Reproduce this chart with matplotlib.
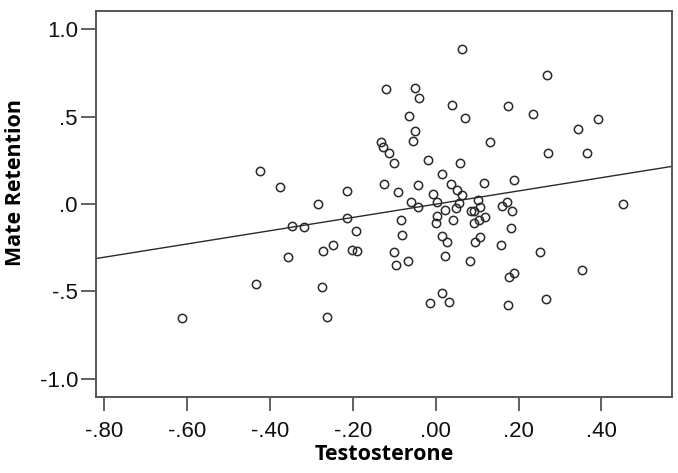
import numpy as np
import matplotlib
matplotlib.use("Agg")
import matplotlib.pyplot as plt

# testosterone (x) vs mate retention (y)
testosterone = [
    -0.120, -0.131, -0.128, -0.114, -0.424, -0.377, -0.215, -0.126, -0.283,
    0.064, 0.268, -0.051, -0.041, 0.040, 0.174, 0.235, 0.391, -0.064, 0.070,
    0.344, -0.051, -0.056, 0.131, 0.271, 0.365, -0.100, -0.018, 0.059, 0.016,
    0.188, 0.116, -0.043, 0.036, 0.051, -0.091, -0.006, 0.064, 0.101, -0.060,
    0.002, 0.056, 0.172, 0.452,
    -0.043, 0.161, 0.106, 0.048, 0.022, 0.086, 0.092, 0.183, 0.004, 0.119,
    -0.085, 0.000, 0.041, 0.092, 0.104, 0.182, -0.082, 0.014, 0.026, 0.094,
    0.108, 0.157, -0.100, 0.251, -0.095, -0.068, 0.022, 0.082, 0.190, 0.176,
    0.353, 0.014, -0.014, 0.031, 0.174, 0.267,
    -0.346, -0.318, -0.215, -0.192, -0.249, -0.271, -0.202, -0.191, -0.357,
    -0.433, -0.274, -0.263, -0.613,
]
mate_retention = [
    0.660, 0.357, 0.328, 0.293, 0.187, 0.095, 0.074, 0.112, 0.002,
    0.885, 0.740, 0.664, 0.605, 0.569, 0.560, 0.517, 0.488, 0.503, 0.490,
    0.431, 0.416, 0.359, 0.353, 0.292, 0.290, 0.233, 0.252, 0.236, 0.170,
    0.136, 0.118, 0.107, 0.113, 0.082, 0.069, 0.055, 0.051, 0.023, 0.011,
    0.010, 0.006, 0.010, -0.002,
    -0.015, -0.013, -0.015, -0.025, -0.034, -0.042, -0.039, -0.042, -0.070, -0.072,
    -0.093, -0.107, -0.093, -0.107, -0.093, -0.135, -0.179, -0.183, -0.215, -0.215,
    -0.189, -0.233, -0.277, -0.275, -0.347, -0.324, -0.297, -0.328, -0.393, -0.416,
    -0.376, -0.511, -0.565, -0.561, -0.578, -0.542,
    -0.126, -0.130, -0.082, -0.156, -0.233, -0.269, -0.263, -0.269, -0.303,
    -0.458, -0.473, -0.645, -0.652,
]
x_ticks = [-0.8, -0.6, -0.4, -0.2, 0.0, 0.2, 0.4]
x_ticklabels = ["-.80", "-.60", "-.40", "-.20", ".00", ".20", ".40"]
y_ticks = [-1.0, -0.5, 0.0, 0.5, 1.0]
y_ticklabels = ["-1.0", "-.5", ".0", ".5", "1.0"]

x = np.array(testosterone)
y = np.array(mate_retention)

fig = plt.figure(figsize=(6.78, 4.73), dpi=100)
ax = fig.add_axes([0.1416, 0.1607, 0.8494, 0.816])

ax.plot(x, y, 'o', ms=6, mfc='none', mec='#2a2a2a', mew=1.1, zorder=3)

# linear fit over the whole x range
slope, intercept = np.polyfit(x, y, 1)
xl = np.array([-0.82, 0.57])
ax.plot(xl, slope * xl + intercept, color='#2a2a2a', lw=1.0)

ax.set_xlim(-0.82, 0.57)
ax.set_ylim(-1.104, 1.104)
ax.set_xticks(x_ticks)
ax.set_xticklabels(x_ticklabels)
ax.set_yticks(y_ticks)
ax.set_yticklabels(y_ticklabels)

for s in ax.spines.values():
    s.set_color('#555555')
    s.set_linewidth(1.4)
ax.tick_params(axis='x', length=10, width=1.3, color='#555555', pad=7)
ax.tick_params(axis='y', length=11, width=1.3, color='#555555', pad=2)
for lab in ax.get_xticklabels() + ax.get_yticklabels():
    lab.set_fontfamily('Liberation Sans')
    lab.set_fontsize(16)
    lab.set_color('#111111')

ax.set_xlabel('Testosterone', fontfamily='Open Sans', fontweight='bold',
              fontsize=15.5, labelpad=2)
ax.set_ylabel('Mate Retention', fontfamily='Open Sans', fontweight='bold',
              fontsize=15.5)
ax.yaxis.set_label_coords(-0.122, 0.557)

fig.savefig('out.png', dpi=100)
